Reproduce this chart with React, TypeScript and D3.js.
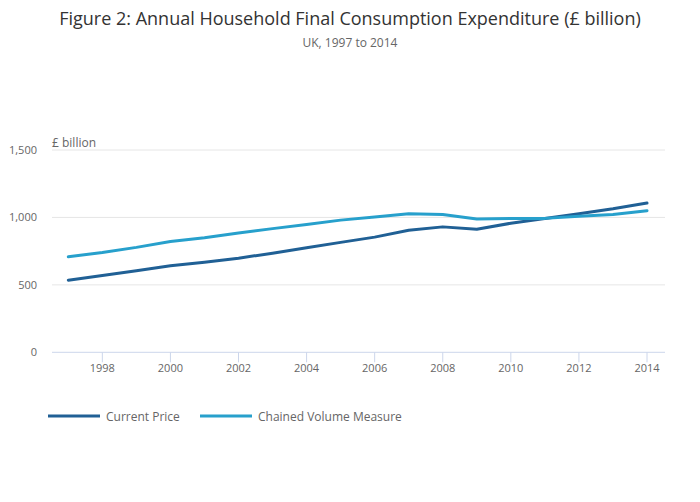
import React from "react";
import * as d3 from "d3";

const years = [1997, 1998, 1999, 2000, 2001, 2002, 2003, 2004, 2005, 2006, 2007, 2008, 2009, 2010, 2011, 2012, 2013, 2014];
const currentPrice = [535, 570, 604, 641, 667, 698, 735, 775, 815, 854, 905, 930, 912, 957, 992, 1027, 1064, 1107];
const chainedVolume = [708, 740, 778, 822, 850, 884, 917, 948, 980, 1003, 1028, 1022, 988, 993, 993, 1008, 1022, 1050];
const yTicks = [0, 500, 1000, 1500];
const xTicks = [1998, 2000, 2002, 2004, 2006, 2008, 2010, 2012, 2014];

const seriesList = [
  { name: "Current Price", values: currentPrice, color: "#206095" },
  { name: "Chained Volume Measure", values: chainedVolume, color: "#27a0cc" },
];

const width = 700;
const height = 502;
const font = "'Open Sans', sans-serif";

const App: React.FC = () => {
  const left = 52;
  const right = 665;
  const top = 150;
  const bottom = 352.3;

  const x = d3.scaleLinear().domain([1997, 2014]).range([68.3, 647]);
  const y = d3.scaleLinear().domain([0, 1500]).range([bottom, top]);

  const line = d3
    .line<number>()
    .x((_, i) => x(years[i]))
    .y((d) => y(d));

  const fmt = d3.format(",");

  return (
    <svg width={width} height={height} style={{ position: "absolute", left: 0, top: 0, fontFamily: font }}>
      <rect width={width} height={height} fill="#fff" />
      <text x={width / 2} y={25} textAnchor="middle" fontSize={18} fill="#333">
        Figure 2: Annual Household Final Consumption Expenditure (£ billion)
      </text>
      <text x={width / 2} y={47} textAnchor="middle" fontSize={12} fill="#666">
        UK, 1997 to 2014
      </text>

      {/* grid */}
      {yTicks.slice(1).map((t) => (
        <line key={t} x1={left} x2={right} y1={y(t)} y2={y(t)} stroke="#e6e6e6" strokeWidth={1} />
      ))}
      {yTicks.map((t) => (
        <text key={t} x={37} y={y(t) + 4} textAnchor="end" fontSize={11} fill="#666">
          {fmt(t)}
        </text>
      ))}
      <text x={52} y={147} fontSize={12} fill="#666">£ billion</text>

      {/* x axis */}
      <line x1={left} x2={right} y1={bottom} y2={bottom} stroke="#ccd6eb" strokeWidth={1} />
      {xTicks.map((t) => (
        <g key={t}>
          <line x1={x(t)} x2={x(t)} y1={bottom} y2={bottom + 10} stroke="#ccd6eb" />
          <text x={x(t)} y={bottom + 20} textAnchor="middle" fontSize={11} fill="#666">
            {t}
          </text>
        </g>
      ))}

      {seriesList.map((s) => (
        <path key={s.name} d={line(s.values) ?? ""} fill="none" stroke={s.color} strokeWidth={3} strokeLinejoin="round" strokeLinecap="round" />
      ))}

      {/* legend */}
      {seriesList.map((s, i) => {
        const lx = 48 + i * 152;
        return (
          <g key={s.name}>
            <line x1={lx} x2={lx + 52} y1={416} y2={416} stroke={s.color} strokeWidth={3} />
            <text x={lx + 58} y={420.5} fontSize={12} fill="#666">
              {s.name}
            </text>
          </g>
        );
      })}
    </svg>
  );
};

export default App;
